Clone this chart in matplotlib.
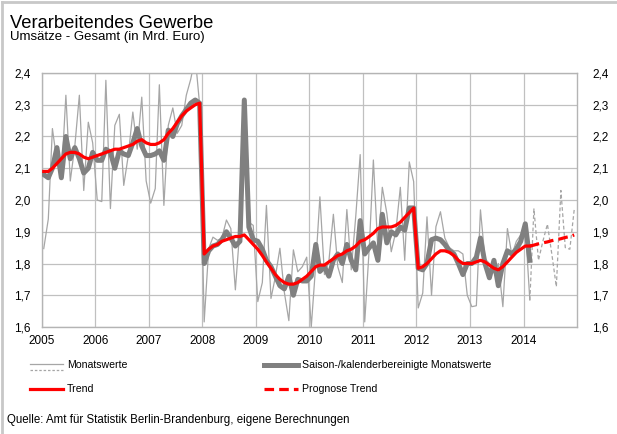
import numpy as np
import pandas as pd
import matplotlib
matplotlib.use('Agg')
import matplotlib.pyplot as plt
from matplotlib.lines import Line2D

plt.rcParams['font.family'] = ['Liberation Sans', 'DejaVu Sans']

# Monthly values Jan 2005 - Feb 2014 (Mrd. Euro)
monatswerte = [
    1.847, 1.94, 2.225, 2.12, 2.067, 2.33, 2.06, 2.17, 2.33, 2.03, 2.245, 2.18,
    2.0, 1.995, 2.377, 1.973, 2.235, 2.27, 2.046, 2.14, 2.277, 2.16, 2.324, 2.06,
    1.99, 2.036, 2.363, 1.983, 2.235, 2.29, 2.21, 2.235, 2.33, 2.38, 2.45, 2.30,
    1.616, 1.847, 1.883, 1.873, 1.88, 1.937, 1.91, 1.717, 1.91, 2.31, 1.93, 1.92,
    1.68, 1.74, 1.983, 1.69, 1.758, 1.848, 1.71, 1.62, 1.843, 1.774, 1.79, 1.82,
    1.60, 1.80, 2.01, 1.765, 1.806, 1.955, 1.79, 1.74, 1.97, 1.78, 1.95, 2.143,
    1.616, 1.85, 2.126, 1.84, 2.04, 1.958, 1.837, 1.90, 2.04, 1.81, 2.12, 2.058,
    1.66, 1.707, 1.947, 1.70, 1.916, 1.963, 1.88, 1.85, 1.84, 1.84, 1.83, 1.70,
    1.664, 1.667, 1.969, 1.815, 1.80, 1.77, 1.80, 1.664, 1.91, 1.827, 1.87, 1.89,
    1.916, 1.685,
]
# Dashed continuation Feb 2014 - Dec 2014
monatswerte_prognose = [1.685, 1.972, 1.81, 1.87, 1.924, 1.83, 1.727, 2.03, 1.85, 1.845, 1.97]

saisonbereinigt = [
    2.08, 2.07, 2.10, 2.165, 2.07, 2.20, 2.13, 2.165, 2.13, 2.085, 2.10, 2.15,
    2.125, 2.125, 2.16, 2.15, 2.10, 2.155, 2.145, 2.14, 2.18, 2.225, 2.17, 2.14,
    2.14, 2.145, 2.155, 2.125, 2.22, 2.20, 2.24, 2.265, 2.285, 2.305, 2.315, 2.305,
    1.80, 1.84, 1.855, 1.86, 1.875, 1.90, 1.88, 1.855, 1.87, 2.315, 1.915, 1.875,
    1.87, 1.845, 1.81, 1.79, 1.76, 1.73, 1.72, 1.76, 1.70, 1.75, 1.745, 1.745,
    1.76, 1.86, 1.775, 1.79, 1.76, 1.81, 1.83, 1.80, 1.86, 1.81, 1.78, 1.935,
    1.83, 1.85, 1.865, 1.81, 1.955, 1.865, 1.90, 1.89, 1.915, 1.905, 1.975, 1.975,
    1.785, 1.78, 1.80, 1.875, 1.88, 1.875, 1.86, 1.84, 1.83, 1.80, 1.765, 1.80,
    1.80, 1.82, 1.88, 1.80, 1.755, 1.81, 1.73, 1.80, 1.84, 1.83, 1.845, 1.87,
    1.925, 1.81,
]

trend = [
    2.09, 2.09, 2.10, 2.115, 2.13, 2.145, 2.15, 2.15, 2.145, 2.135, 2.13, 2.135,
    2.14, 2.145, 2.15, 2.155, 2.16, 2.16, 2.165, 2.17, 2.175, 2.185, 2.19, 2.18,
    2.175, 2.175, 2.18, 2.19, 2.21, 2.225, 2.245, 2.265, 2.28, 2.29, 2.30, 2.305,
    1.83, 1.845, 1.855, 1.86, 1.87, 1.875, 1.88, 1.885, 1.885, 1.89, 1.875, 1.86,
    1.845, 1.825, 1.805, 1.785, 1.765, 1.75, 1.74, 1.735, 1.735, 1.74, 1.75, 1.76,
    1.775, 1.79, 1.795, 1.795, 1.805, 1.815, 1.825, 1.83, 1.84, 1.845, 1.855, 1.87,
    1.875, 1.885, 1.895, 1.91, 1.915, 1.915, 1.915, 1.92, 1.93, 1.945, 1.96, 1.975,
    1.785, 1.79, 1.80, 1.815, 1.83, 1.84, 1.84, 1.835, 1.825, 1.81, 1.80, 1.80,
    1.80, 1.805, 1.81, 1.805, 1.795, 1.785, 1.78, 1.79, 1.805, 1.82, 1.835, 1.845,
    1.855, 1.855,
]
trend_prognose = [1.855, 1.858, 1.862, 1.865, 1.868, 1.872, 1.875, 1.878, 1.882, 1.885, 1.89]

years = list(range(2005, 2015))
y_ticks = [1.6, 1.7, 1.8, 1.9, 2.0, 2.1, 2.2, 2.3, 2.4]

dates = pd.date_range('2005-01-01', periods=len(monatswerte), freq='MS') + pd.Timedelta(days=12)
dates_prog = pd.date_range('2014-02-01', periods=len(trend_prognose), freq='MS') + pd.Timedelta(days=12)

W, H = 617, 434
fig = plt.figure(figsize=(W / 100, H / 100), dpi=100)
ax = fig.add_axes([42 / W, 1 - 327 / H, 535 / W, 254 / H])

grid_c = '#c0c0c0'
thin_c = '#a6a6a6'
thick_c = '#808080'
red = '#ff0000'

ax.plot(dates, monatswerte, color=thin_c, lw=0.9, zorder=2)
ax.plot(dates_prog, monatswerte_prognose, color=thin_c, lw=0.9, ls=(0, (3, 2)), zorder=2)
ax.plot(dates, saisonbereinigt, color=thick_c, lw=3.6, zorder=3, solid_joinstyle='round')
ax.plot(dates, trend, color=red, lw=2.3, zorder=4, solid_joinstyle='round')
ax.plot(dates_prog, trend_prognose, color=red, lw=2.3, ls=(0, (3, 1.6)), zorder=4)

ax.set_xlim(pd.Timestamp('2005-01-01'), pd.Timestamp('2015-01-01'))
ax.set_ylim(1.6, 2.4)
ax.set_xticks([pd.Timestamp(f'{y}-01-01') for y in years])
ax.set_xticklabels([str(y) for y in years])
ax.set_yticks(y_ticks)
ylabels = [f'{v:.1f}'.replace('.', ',') for v in y_ticks]
ax.set_yticklabels(ylabels)
ax.grid(True, color=grid_c, lw=0.9, zorder=0)
ax.set_axisbelow(True)
for s in ax.spines.values():
    s.set_color('#b4b4b4')
    s.set_linewidth(1.0)
ax.tick_params(axis='both', length=0, labelsize=8.5, colors='#000000')
ax.tick_params(axis='y', pad=8)
ax.tick_params(axis='x', pad=6)

ax2 = ax.twinx()
ax2.set_ylim(1.6, 2.4)
ax2.set_yticks(y_ticks)
ax2.set_yticklabels(ylabels)
ax2.tick_params(axis='y', length=0, labelsize=8.5, pad=11)
for s in ax2.spines.values():
    s.set_visible(False)

# Title texts
fig.text(10 / W, 1 - 28 / H, 'Verarbeitendes Gewerbe', fontsize=13.2, va='baseline', ha='left')
fig.text(10 / W, 1 - 40 / H, 'Umsätze - Gesamt (in Mrd. Euro)', fontsize=9.5, va='baseline', ha='left')

# Legend (figure coordinates)
def hline(x0, x1, y, **kw):
    fig.add_artist(Line2D([x0 / W, x1 / W], [1 - y / H, 1 - y / H], transform=fig.transFigure, **kw))

hline(30, 63, 364, color=thin_c, lw=0.9)
hline(30, 63, 370, color=thin_c, lw=0.9, ls=(0, (2, 1.5)))
hline(264, 298, 365, color=thick_c, lw=3.6)
hline(30, 63, 389, color=red, lw=2.3)
hline(264, 298, 389, color=red, lw=2.3, ls=(0, (3, 1.6)))
fig.text(67 / W, 1 - 365 / H, 'Monatswerte', fontsize=7.6, va='center', ha='left')
fig.text(302 / W, 1 - 365 / H, 'Saison-/kalenderbereinigte Monatswerte', fontsize=7.6, va='center', ha='left')
fig.text(67 / W, 1 - 389 / H, 'Trend', fontsize=7.6, va='center', ha='left')
fig.text(302 / W, 1 - 389 / H, 'Prognose Trend', fontsize=7.6, va='center', ha='left')
fig.text(7 / W, 1 - 420 / H, 'Quelle: Amt für Statistik Berlin-Brandenburg, eigene Berechnungen',
         fontsize=8.3, va='center', ha='left')

# Outer frame (left and top)
fig.add_artist(Line2D([2 / W, 2 / W], [0, 1 - 2 / H], transform=fig.transFigure, color='#c8c8c8', lw=2))
fig.add_artist(Line2D([2 / W, 1], [1 - 2 / H, 1 - 2 / H], transform=fig.transFigure, color='#c8c8c8', lw=2))

fig.savefig('out.png', dpi=100)
